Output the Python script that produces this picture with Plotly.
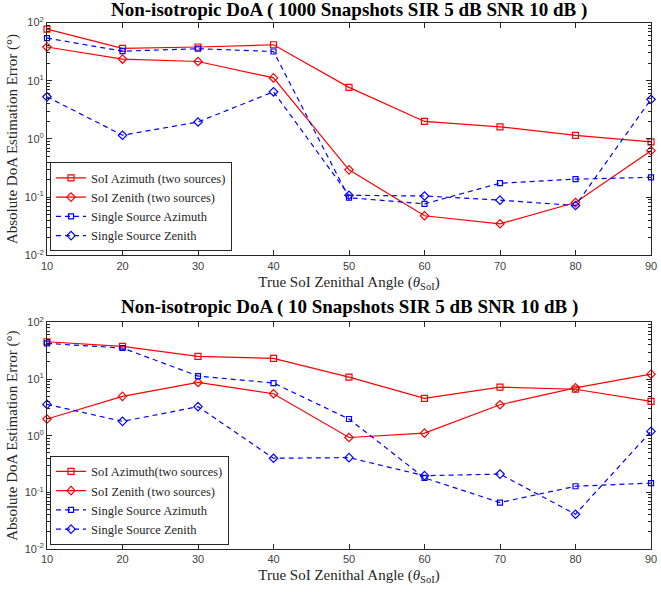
import plotly.graph_objects as go
from plotly.subplots import make_subplots

angles = [10, 20, 30, 40, 50, 60, 70, 80, 90]

# Top: 1000 snapshots
top_soi_az = [77, 36, 38, 41.5, 7.7, 2.0, 1.62, 1.15, 0.89]
top_soi_ze = [38, 23.6, 21.4, 11.2, 0.295, 0.048, 0.035, 0.081, 0.63]
top_ss_az = [54, 32.2, 35.5, 31.8, 0.098, 0.077, 0.174, 0.204, 0.22]
top_ss_ze = [5.3, 1.16, 1.96, 6.46, 0.108, 0.105, 0.089, 0.072, 4.8]

# Bottom: 10 snapshots
bot_soi_az = [45.5, 37.7, 25.1, 23.2, 10.8, 4.57, 7.2, 6.6, 4.04]
bot_soi_ze = [1.97, 4.94, 8.7, 5.5, 0.93, 1.11, 3.52, 7.0, 12.2]
bot_ss_az = [42.6, 35.3, 11.3, 8.5, 1.97, 0.18, 0.066, 0.128, 0.146]
bot_ss_ze = [3.57, 1.79, 3.25, 0.40, 0.41, 0.197, 0.21, 0.041, 1.19]

top_names = ["SoI Azimuth (two sources)", "SoI Zenith (two sources)",
             "Single Source Azimuth", "Single Source Zenith"]
bot_names = ["SoI Azimuth(two sources)", "SoI Zenith (two sources)",
             "Single Source Azimuth", "Single Source Zenith"]
titles = ["Non-isotropic DoA ( 1000 Snapshots SIR 5 dB SNR 10 dB )",
          "Non-isotropic DoA ( 10 Snapshots SIR 5 dB SNR 10 dB )"]
ytick_vals = [0.01, 0.1, 1, 10, 100]
ytick_text = ["10<sup>-2</sup>", "10<sup>-1</sup>", "10<sup>0</sup>", "10<sup>1</sup>", "10<sup>2</sup>"]

SERIF = "Liberation Serif, Times New Roman, serif"
SANS = "Liberation Sans, Arial, sans-serif"
RED = "#ff0000"
BLUE = "#0000ff"

minor_vals = [m * 10.0 ** e for e in (-2, -1, 0, 1) for m in range(2, 10)]

fig = make_subplots(rows=2, cols=1, vertical_spacing=0.127)
fig.update_yaxes(domain=[0.557, 0.999], row=1, col=1)
fig.update_yaxes(domain=[0.0, 0.430], row=2, col=1)

styles = [
    dict(color=RED, dash="solid", symbol="square-open", size=6),
    dict(color=RED, dash="solid", symbol="diamond-open", size=6.5),
    dict(color=BLUE, dash="5px,4px", symbol="square-open", size=5),
    dict(color=BLUE, dash="5px,4px", symbol="diamond-open", size=6.5),
]

for row, series, names, leg in [
    (1, [top_soi_az, top_soi_ze, top_ss_az, top_ss_ze], top_names, "legend"),
    (2, [bot_soi_az, bot_soi_ze, bot_ss_az, bot_ss_ze], bot_names, "legend2"),
]:
    for vals, name, st in zip(series, names, styles):
        fig.add_trace(go.Scatter(
            x=angles, y=vals, mode="lines+markers", name=name, legend=leg,
            cliponaxis=False,
            line=dict(color=st["color"], width=1.2, dash=st["dash"]),
            marker=dict(symbol=st["symbol"], size=st["size"], color=st["color"],
                        line=dict(width=1.2, color=st["color"])),
        ), row=row, col=1)

axis_col = "#262626"
for row in (1, 2):
    fig.update_xaxes(
        range=[10, 90], tickvals=angles, ticks="inside", ticklen=5,
        tickcolor=axis_col, showline=True, linecolor=axis_col, linewidth=1,
        mirror="ticks", showgrid=False, zeroline=False, ticklabeloverflow="allow",
        tickfont=dict(family=SANS, size=11, color="#404040"),
        title=dict(text="True SoI Zenithal Angle (<i>θ</i><sub>SoI</sub>)",
                   font=dict(family=SERIF, size=15, color="#262626"), standoff=5),
        row=row, col=1)
    fig.update_yaxes(
        type="log", range=[-2, 2], tickvals=ytick_vals, ticktext=ytick_text,
        ticks="inside", ticklen=5, tickcolor=axis_col, showline=True,
        linecolor=axis_col, linewidth=1, mirror="allticks", showgrid=False,
        zeroline=False,
        minor=dict(tickvals=minor_vals, ticks="inside", ticklen=3,
                   tickcolor=axis_col, showgrid=False),
        tickfont=dict(family=SANS, size=11, color="#404040"),
        title=dict(text="Absolute DoA Estimation Error (°)",
                   font=dict(family=SERIF, size=15, color="#262626"), standoff=3),
        row=row, col=1)

legend_style = dict(
    bgcolor="white", bordercolor="#262626", borderwidth=1,
    font=dict(family=SERIF, size=12.5, color="#262626"),
    xanchor="left", yanchor="bottom", tracegroupgap=0, itemwidth=30,
)
fig.update_layout(
    width=661, height=592,
    margin=dict(l=47, r=4, t=22, b=43),
    plot_bgcolor="white", paper_bgcolor="white",
    legend=dict(x=0.005, y=0.565, **legend_style),
    legend2=dict(x=0.005, y=0.008, **legend_style),
    annotations=[
        dict(text="<b>" + titles[0] + "</b>", x=0.5, y=0.999, xref="paper", yref="paper",
             xanchor="center", yanchor="bottom", yshift=0, showarrow=False,
             font=dict(family=SERIF, size=19, color="black")),
        dict(text="<b>" + titles[1] + "</b>", x=0.5, y=0.430, xref="paper", yref="paper",
             xanchor="center", yanchor="bottom", yshift=2, showarrow=False,
             font=dict(family=SERIF, size=19, color="black")),
    ],
)

fig.write_html("out.html", config={"displayModeBar": False},
               post_script="document.body.style.margin='0';")
